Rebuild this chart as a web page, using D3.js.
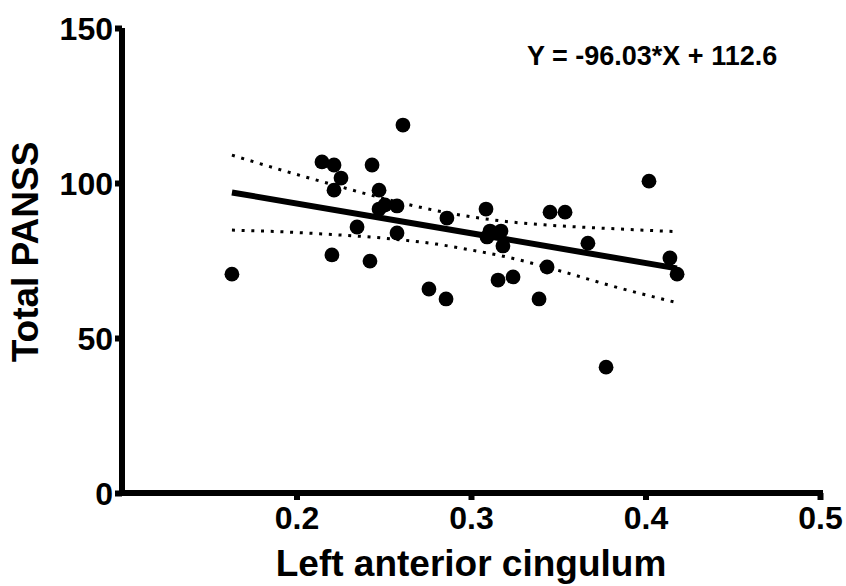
<!DOCTYPE html>
<html>
<head>
<meta charset="utf-8">
<script src="https://cdn.jsdelivr.net/npm/d3@7"></script>
<style>
  html, body { margin: 0; padding: 0; background: #fff; }
  svg { display: block; }
  text { font-family: "Liberation Sans", Arial, sans-serif; font-weight: bold; fill: #000; }
</style>
</head>
<body>
<svg id="chart" width="846" height="586"></svg>
<script>
// ---- data ----
const xValues = [0.163, 0.2146, 0.2215, 0.2255, 0.2215, 0.2203, 0.2347, 0.2421, 0.2433, 0.2473,
                 0.2473, 0.2507, 0.2576, 0.2576, 0.2610, 0.2759, 0.2862, 0.2857, 0.3086, 0.3109,
                 0.3172, 0.3092, 0.3183, 0.3453, 0.3539, 0.3670, 0.4020, 0.4140, 0.4181, 0.3436,
                 0.3241, 0.3155, 0.3390, 0.3774];
const yValues = [70.6, 106.8, 105.8, 101.6, 97.7, 76.8, 85.8, 74.8, 105.8, 97.7,
                 91.6, 92.9, 92.6, 83.9, 118.7, 65.8, 88.7, 62.6, 91.6, 84.5,
                 84.5, 82.6, 79.7, 90.6, 90.6, 80.6, 100.6, 75.8, 70.6, 72.9,
                 69.7, 68.7, 62.6, 40.6];
const slope = -96.03;
const intercept = 112.6;
const fitRange = [0.163, 0.418];
const bandX     = [0.163, 0.19, 0.22, 0.25, 0.28, 0.30, 0.32, 0.35, 0.38, 0.418];
const bandUpper = [109.0, 104.4, 99.6, 95.0, 91.1, 89.1, 87.6, 86.2, 85.3, 84.3];
const bandLower = [84.8, 84.3, 83.4, 82.2, 80.3, 78.4, 76.2, 71.8, 66.9, 61.4];
const xTicks = [0.2, 0.3, 0.4, 0.5];
const yTicks = [0, 50, 100, 150];
const xTitle = "Left anterior cingulum";
const yTitle = "Total PANSS";
const equation = "Y = -96.03*X + 112.6";

// ---- layout ----
const svg = d3.select("#chart");
const x = d3.scaleLinear().domain([0.1, 0.5]).range([122, 820]);
const y = d3.scaleLinear().domain([0, 150]).range([493, 28]);

// confidence bands (dotted)
const bandLine = d3.line().x(d => x(d[0])).y(d => y(d[1])).curve(d3.curveMonotoneX);
[bandUpper, bandLower].forEach(b => {
  svg.append("path")
    .datum(bandX.map((v, i) => [v, b[i]]))
    .attr("d", bandLine)
    .attr("fill", "none")
    .attr("stroke", "#000")
    .attr("stroke-width", 3)
    .attr("stroke-dasharray", "3 6.7");
});

// regression line
svg.append("path")
  .datum(fitRange.map(v => [v, slope * v + intercept]))
  .attr("d", d3.line().x(d => x(d[0])).y(d => y(d[1])))
  .attr("stroke", "#000")
  .attr("stroke-width", 6)
  .attr("fill", "none");

// points
svg.append("g").selectAll("circle")
  .data(xValues.map((v, i) => [v, yValues[i]]))
  .join("circle")
  .attr("cx", d => x(d[0]))
  .attr("cy", d => y(d[1]))
  .attr("r", 7.4)
  .attr("fill", "#000");

// axes
const xAxis = d3.axisBottom(x).tickValues(xTicks).tickFormat(d3.format(".1f")).tickSize(8).tickPadding(10);
const yAxis = d3.axisLeft(y).tickValues(yTicks).tickFormat(d3.format("d")).tickSize(8).tickPadding(2);

const gx = svg.append("g").attr("transform", `translate(0,${y(0)})`).call(xAxis);
gx.select(".domain").remove();
gx.selectAll(".tick line").attr("stroke", "#000").attr("stroke-width", 6).attr("y1", 0).attr("y2", 7);
gx.selectAll(".tick text").style("font-size", "32px").style("font-family", "Liberation Sans, Arial, sans-serif").style("font-weight", "bold").attr("dy", "0.71em").attr("y", 13);

const gy = svg.append("g").attr("transform", `translate(${x(0.1)},0)`).call(yAxis);
gy.select(".domain").remove();
gy.selectAll(".tick line").attr("stroke", "#000").attr("stroke-width", 6).attr("x1", 0).attr("x2", -7);
gy.selectAll(".tick text").style("font-size", "32px").style("font-family", "Liberation Sans, Arial, sans-serif").style("font-weight", "bold").attr("x", -9).attr("dy", "0.36em");

// axis lines
svg.append("line")
  .attr("x1", x(0.1)).attr("x2", x(0.1))
  .attr("y1", y(0) + 3).attr("y2", y(150))
  .attr("stroke", "#000").attr("stroke-width", 6);
svg.append("line")
  .attr("x1", x(0.1) - 3).attr("x2", x(0.5) + 3)
  .attr("y1", y(0)).attr("y2", y(0))
  .attr("stroke", "#000").attr("stroke-width", 6);

// titles
svg.append("text")
  .attr("x", 471).attr("y", 576)
  .attr("text-anchor", "middle")
  .style("font-size", "37px")
  .text(xTitle);

svg.append("text")
  .attr("transform", "translate(38,252) rotate(-90)")
  .attr("text-anchor", "middle")
  .style("font-size", "37px")
  .text(yTitle);

svg.append("text")
  .attr("x", 527).attr("y", 65)
  .style("font-size", "27px")
  .text(equation);
</script>
</body>
</html>
